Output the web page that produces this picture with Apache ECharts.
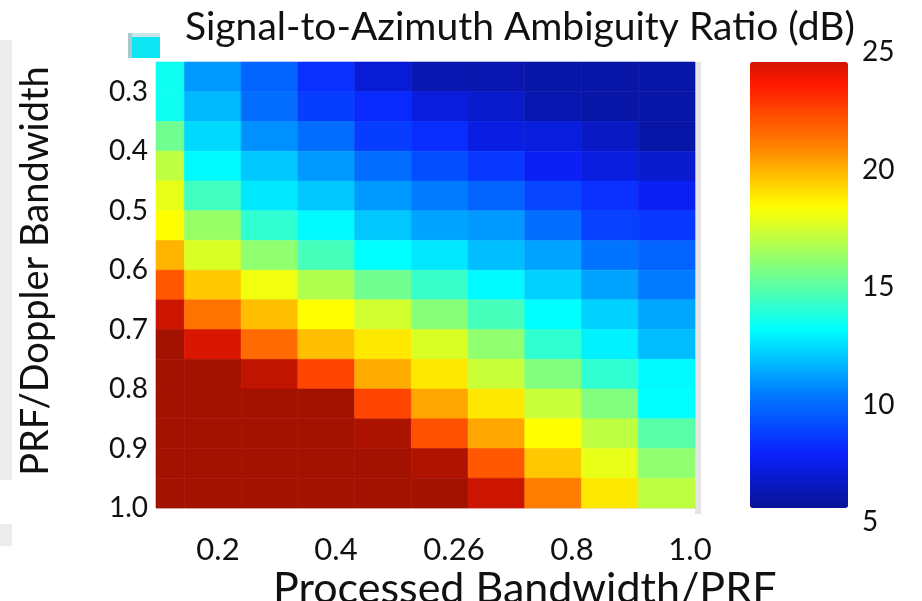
<!DOCTYPE html>
<html>
<head>
<meta charset="utf-8">
<script src="https://cdn.jsdelivr.net/npm/echarts@6/dist/echarts.min.js"></script>
<style>
html,body{margin:0;padding:0;background:#fff;}
#chart{width:922px;height:601px;}
</style>
</head>
<body>
<div id="chart"></div>
<script>
// bin centres: processed bandwidth/PRF (x) and PRF/Doppler bandwidth (y)
var pbwBins = [0.05, 0.15, 0.25, 0.35, 0.45, 0.55, 0.65, 0.75, 0.85, 0.95];
var prfBins = [0.275, 0.325, 0.375, 0.425, 0.475, 0.525, 0.575, 0.625, 0.675, 0.725, 0.775, 0.825, 0.875, 0.925, 0.975];
// signal-to-azimuth ambiguity ratio (dB), one row per PRF bin, top row first
var sarRows = [
	[13.3, 10.8,  9.4,  7.9,  6.5,  5.6,  5.6,  5.4,  5.4,  5.4],
	[13.3, 11.5,  9.7,  8.3,  7.7,  6.7,  6.3,  5.6,  5.4,  5.4],
	[15.4, 12.2, 10.6,  9.7,  8.3,  7.8,  6.8,  6.7,  6.1,  5.4],
	[17.1, 12.9, 11.8, 10.8,  9.7,  8.8,  8.1,  7.2,  6.7,  6.3],
	[18.0, 14.4, 12.5, 11.8, 10.8, 10.1,  9.4,  8.5,  7.9,  7.2],
	[18.5, 16.3, 14.0, 12.9, 11.8, 11.0, 10.8,  9.7,  8.4,  8.1],
	[20.1, 17.7, 16.1, 14.5, 13.0, 12.5, 11.6, 11.0,  9.9,  9.4],
	[22.3, 19.7, 18.2, 16.8, 15.4, 14.2, 12.9, 12.0, 11.0, 10.1],
	[25.1, 21.6, 19.9, 18.5, 17.5, 15.9, 14.5, 13.0, 12.0, 11.1],
	[26.0, 24.8, 21.8, 19.9, 19.0, 17.7, 16.1, 14.0, 12.7, 11.6],
	[26.0, 26.0, 25.4, 22.8, 20.3, 19.0, 17.3, 15.8, 14.0, 12.9],
	[26.0, 26.0, 26.0, 26.0, 22.8, 20.4, 19.0, 17.3, 15.8, 13.0],
	[26.0, 26.0, 26.0, 26.0, 25.8, 22.5, 20.4, 18.5, 17.1, 14.9],
	[26.0, 26.0, 26.0, 26.0, 26.0, 25.7, 22.3, 19.7, 18.0, 16.1],
	[26.0, 26.0, 26.0, 26.0, 26.0, 26.0, 25.1, 21.3, 19.0, 17.1]
];
var xTickLabels = ['0.2', '0.4', '0.26', '0.8', '1.0'];
var yTickLabels = ['0.3', '0.4', '0.5', '0.6', '0.7', '0.8', '0.9', '1.0'];
var cbTicks = [5, 10, 15, 20, 25];

var jetStops = ['#08128c', '#0a22ff', '#0080ff', '#00ffff', '#80ff80', '#ffff00', '#ff8000', '#ff1800', '#801000'];
var jetMin = 4.75, jetMax = 26.75;

function hexToRgb(h) {
	return [parseInt(h.substr(1, 2), 16), parseInt(h.substr(3, 2), 16), parseInt(h.substr(5, 2), 16)];
}
function jetAt(v) {
	var t = (v - jetMin) / (jetMax - jetMin) * (jetStops.length - 1);
	var i = Math.max(0, Math.min(jetStops.length - 2, Math.floor(t)));
	var f = t - i;
	var a = hexToRgb(jetStops[i]), b = hexToRgb(jetStops[i + 1]);
	return 'rgb(' + Math.round(a[0] + (b[0] - a[0]) * f) + ',' + Math.round(a[1] + (b[1] - a[1]) * f) + ',' + Math.round(a[2] + (b[2] - a[2]) * f) + ')';
}
// colour bar shows only the 5..25 part of the map
var cbColors = [];
for (var k = 0; k <= 40; k++) {
	cbColors.push(jetAt(cbTicks[0] + (cbTicks[cbTicks.length - 1] - cbTicks[0]) * k / 40));
}

var cellData = [];
for (var r = 0; r < prfBins.length; r++) {
	for (var c = 0; c < pbwBins.length; c++) {
		cellData.push([pbwBins[c], prfBins[r], sarRows[r][c]]);
	}
}
var halfW = 0.05, halfH = 0.025;

function renderCell(params, api) {
	var x = api.value(0), y = api.value(1);
	var p0 = api.coord([x - halfW, y - halfH]);
	var p1 = api.coord([x + halfW, y + halfH]);
	var cs = params.coordSys;
	var shape = echarts.graphic.clipRectByRect({
		x: Math.min(p0[0], p1[0]),
		y: Math.min(p0[1], p1[1]),
		width: Math.abs(p1[0] - p0[0]),
		height: Math.abs(p1[1] - p0[1])
	}, { x: cs.x, y: cs.y, width: cs.width, height: cs.height });
	if (!shape) return;
	var col = api.visual('color');
	return {
		type: 'rect',
		shape: shape,
		style: { fill: col, stroke: col, lineWidth: 0.6 }
	};
}

var font = 'Lato';
var chart = echarts.init(document.getElementById('chart'));
var option = {
	backgroundColor: '#fff',
	animation: false,
	title: [{
		text: 'Signal-to-Azimuth Ambiguity Ratio (dB)',
		left: 180,
		top: 3,
		textStyle: { fontFamily: font, fontSize: 39, fontWeight: 'normal', color: '#111' }
	}, {
		text: 'Processed Bandwidth/PRF',
		left: 268,
		top: 563,
		textStyle: { fontFamily: font, fontSize: 43, fontWeight: 'normal', color: '#111' }
	}],
	grid: [
		{ left: 156, top: 62, width: 539, height: 446 },
		{ left: 159, top: 62, width: 590, height: 446 },
		{ left: 750, top: 52, width: 98, height: 470 }
	],
	xAxis: [
		{ gridIndex: 0, type: 'value', min: 0.05, max: 1.0, show: false },
		{
			gridIndex: 1, type: 'category', data: xTickLabels,
			axisLine: { show: false }, axisTick: { show: false }, splitLine: { show: false },
			axisLabel: { margin: 26, fontFamily: font, fontSize: 31, color: '#111' }
		},
		{ gridIndex: 2, type: 'value', min: 0, max: 1, show: false }
	],
	yAxis: [
		{
			gridIndex: 0, type: 'value', min: 0.25, max: 1.0, interval: 0.05, inverse: true,
			axisLine: { show: false }, axisTick: { show: false }, splitLine: { show: false },
			axisLabel: {
				margin: 8, fontFamily: font, fontSize: 28, color: '#111',
				formatter: function (v) {
					var s = v.toFixed(1);
					return (Math.abs(v * 10 - Math.round(v * 10)) < 1e-6 && yTickLabels.indexOf(s) > -1) ? s : '';
				}
			},
			name: 'PRF/Doppler Bandwidth',
			nameLocation: 'middle',
			nameRotate: 90,
			nameGap: 101,
			nameTextStyle: { fontFamily: font, fontSize: 38, color: '#111', padding: [0, 0, 0, 28] }
		},
		{ gridIndex: 1, type: 'value', show: false },
		{
			gridIndex: 2, type: 'value', position: 'right', min: cbTicks[0], max: cbTicks[cbTicks.length - 1], interval: 5,
			axisLine: { show: false }, axisTick: { show: false }, splitLine: { show: false },
			axisLabel: { margin: 14, fontFamily: font, fontSize: 28, color: '#111' }
		}
	],
	visualMap: [{
		type: 'continuous',
		show: false,
		seriesIndex: 0,
		dimension: 2,
		min: jetMin,
		max: jetMax,
		inRange: { color: jetStops }
	}, {
		type: 'continuous',
		seriesIndex: [],
		min: cbTicks[0],
		max: cbTicks[cbTicks.length - 1],
		calculable: false,
		left: 750,
		top: 62,
		padding: 0,
		itemWidth: 98,
		itemHeight: 446,
		inRange: { color: cbColors }
	}],
	series: [{
		type: 'custom',
		xAxisIndex: 0,
		yAxisIndex: 0,
		renderItem: renderCell,
		encode: { x: 0, y: 1 },
		data: cellData
	}],
	graphic: [
		// leftovers of the pasted figure
		{ type: 'rect', left: 128, top: 33, shape: { width: 32, height: 25 }, style: { fill: '#0fe6f4' } },
		{ type: 'rect', left: 128, top: 33, shape: { width: 32, height: 4 }, style: { fill: '#c9e4e6' } },
		{ type: 'rect', left: 128, top: 33, shape: { width: 4, height: 25 }, style: { fill: '#a9c9cc' } },
		{ type: 'rect', left: 695, top: 62, shape: { width: 6, height: 452 }, style: { fill: '#e4e4e4' } },
		{ type: 'rect', left: 156, top: 504, shape: { width: 540, height: 5 }, style: { fill: 'rgba(200,200,200,0.45)' } },
		{ type: 'rect', left: 0, top: 40, shape: { width: 12, height: 440 }, style: { fill: '#ececec' } },
		{ type: 'rect', left: 0, top: 524, shape: { width: 12, height: 22 }, style: { fill: '#ececec' } }
	]
};
chart.setOption(option);
</script>
</body>
</html>
